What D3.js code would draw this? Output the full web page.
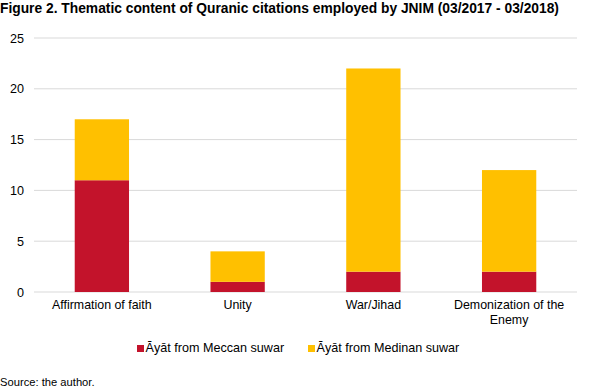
<!DOCTYPE html>
<html>
<head>
<meta charset="utf-8">
<script src="https://cdn.jsdelivr.net/npm/d3@7"></script>
<style>
  body { margin: 0; background: #fff; }
  svg text { font-family: "Liberation Sans", Arial, sans-serif; fill: #000; }
</style>
</head>
<body>
<svg id="chart" width="593" height="389"></svg>
<script>
let categories = [["Affirmation of faith"], ["Unity"], ["War/Jihad"], ["Demonization of the", "Enemy"]];
let meccan = [11, 1, 2, 2];
let medinan = [6, 3, 20, 10];
let seriesNames = ["Āyāt from Meccan suwar", "Āyāt from Medinan suwar"];
let colors = ["#c3132b", "#ffc000"];
let yTicks = [0, 5, 10, 15, 20, 25];

let svg = d3.select("#chart");
let plotLeft = 34, plotRight = 577, plotTop = 38, plotBottom = 292;

svg.append("text")
  .attr("x", 0).attr("y", 12.5)
  .attr("font-size", "13.8px").attr("font-weight", "bold")
  .text("Figure 2. Thematic content of Quranic citations employed by JNIM (03/2017 - 03/2018)");

let x = d3.scaleBand()
  .domain(d3.range(categories.length))
  .range([plotLeft, plotRight])
  .paddingInner(0.6)
  .paddingOuter(0.3);

let y = d3.scaleLinear().domain([0, 25]).range([plotBottom, plotTop]);

// grid
svg.selectAll("line.grid")
  .data(yTicks)
  .enter().append("line")
  .attr("class", "grid")
  .attr("x1", plotLeft).attr("x2", plotRight)
  .attr("y1", d => y(d)).attr("y2", d => y(d))
  .attr("stroke", "#d9d9d9").attr("stroke-width", 1);

svg.selectAll("text.ytick")
  .data(yTicks)
  .enter().append("text")
  .attr("class", "ytick")
  .attr("x", 24).attr("y", d => y(d) + 4.5)
  .attr("text-anchor", "end")
  .attr("font-size", "12.6px")
  .text(d => d);

let stackData = categories.map((c, i) => ({ meccan: meccan[i], medinan: medinan[i], i: i }));
let stack = d3.stack().keys(["meccan", "medinan"])(stackData);

svg.selectAll("g.series")
  .data(stack)
  .enter().append("g")
  .attr("fill", (d, i) => colors[i])
  .selectAll("rect")
  .data(d => d)
  .enter().append("rect")
  .attr("x", d => x(d.data.i))
  .attr("width", x.bandwidth())
  .attr("y", d => y(d[1]))
  .attr("height", d => y(d[0]) - y(d[1]));

// category labels
let lbl = svg.selectAll("text.cat")
  .data(categories)
  .enter().append("text")
  .attr("class", "cat")
  .attr("text-anchor", "middle")
  .attr("font-size", "12.4px");
lbl.selectAll("tspan")
  .data((d, i) => d.map(t => ({ t: t, i: i })))
  .enter().append("tspan")
  .attr("x", d => x(d.i) + x.bandwidth() / 2)
  .attr("y", (d, j) => 309 + j * 15)
  .text(d => d.t);

// legend
let legX = [137, 308];
let leg = svg.selectAll("g.leg")
  .data(seriesNames)
  .enter().append("g")
  .attr("transform", (d, i) => "translate(" + legX[i] + ",352)");
leg.append("rect")
  .attr("x", 0).attr("y", -7)
  .attr("width", 7).attr("height", 7)
  .attr("fill", (d, i) => colors[i]);
leg.append("text")
  .attr("x", 8.5).attr("y", 0)
  .attr("font-size", "12.6px")
  .text(d => d);

svg.append("text")
  .attr("x", 0).attr("y", 386)
  .attr("font-size", "11.2px")
  .text("Source: the author.");
</script>
</body>
</html>
